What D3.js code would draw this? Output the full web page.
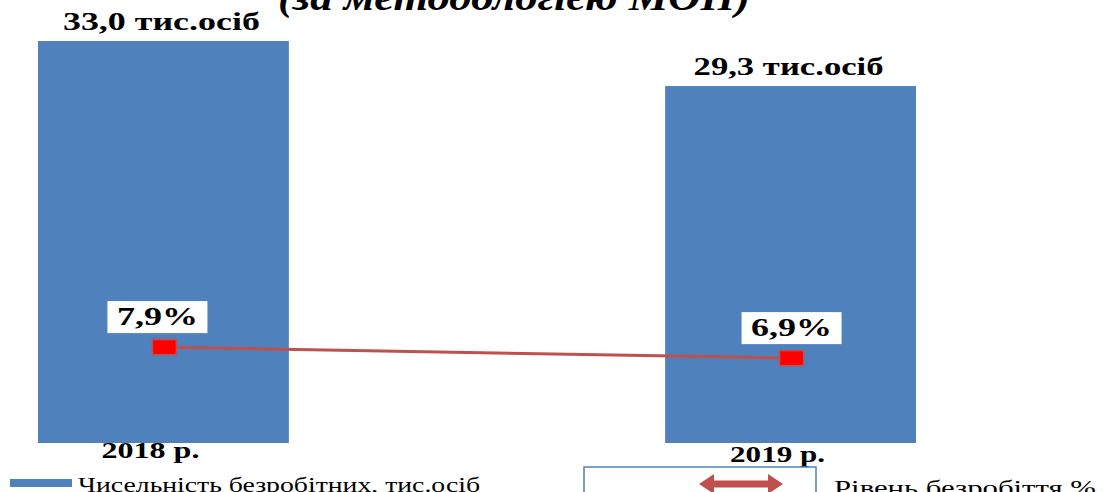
<!DOCTYPE html>
<html><head><meta charset="utf-8">
<script src="https://cdn.jsdelivr.net/npm/d3@7"></script>
<style>body{margin:0;background:#fff;overflow:hidden}svg{display:block}</style>
</head><body>
<script>
const categories = ["2018 р.", "2019 р."];
const unemployed = [33.0, 29.3];
const unemployedLabels = ["33,0 тис.осіб", "29,3 тис.осіб"];
const rate = [7.9, 6.9];
const rateLabels = ["7,9%", "6,9%"];
const titleText = "(за методологією МОП)";
const legendBar = "Чисельність безробітних, тис.осіб";
const legendLine = "Рівень безробіття,%";

const W = 1107, H = 492;
const svg = d3.select("body").append("svg").attr("width", W).attr("height", H);
const serif = "Liberation Serif, Times New Roman, Times, serif";

const x = d3.scaleBand().domain(categories).range([38, 916]).paddingInner(0.6).paddingOuter(0);
const y = d3.scaleLinear().domain([0, 33]).range([443, 41]);
const y2 = d3.scaleLinear().domain([0, 10]).range([434, 324]);

// title (cut at top)
svg.append("text").attr("x", 514).attr("y", 10).attr("text-anchor", "middle")
  .style("font-family", serif).attr("font-size", 38).attr("font-weight", "bold").attr("font-style", "italic")
  .attr("textLength", 472).attr("lengthAdjust", "spacingAndGlyphs").text(titleText);

// bars
svg.selectAll("rect.bar").data(unemployed).join("rect").attr("class", "bar")
  .attr("x", (d, i) => x(categories[i])).attr("width", x.bandwidth())
  .attr("y", d => y(d)).attr("height", d => y(0) - y(d)).attr("fill", "#4f81bd");

// bar labels
const barLabW = [197, 190];
svg.selectAll("text.blab").data(unemployed).join("text").attr("class", "blab")
  .attr("x", (d, i) => x(categories[i]) + x.bandwidth() / 2 - 2)
  .attr("y", d => y(d) - 11)
  .attr("text-anchor", "middle").style("font-family", serif).attr("font-size", 26).attr("font-weight", "bold")
  .attr("textLength", (d, i) => barLabW[i]).attr("lengthAdjust", "spacingAndGlyphs")
  .text((d, i) => unemployedLabels[i]);

// category labels
const catW = [98, 95];
svg.selectAll("text.cat").data(categories).join("text").attr("class", "cat")
  .attr("x", d => x(d) + x.bandwidth() / 2 - 13)
  .attr("y", (d, i) => 458 + i * 4)
  .attr("text-anchor", "middle").style("font-family", serif).attr("font-size", 23).attr("font-weight", "bold")
  .attr("textLength", (d, i) => catW[i]).attr("lengthAdjust", "spacingAndGlyphs")
  .text(d => d);

// line
const cx = (i) => x(categories[i]) + x.bandwidth() / 2 + 1;
svg.append("path").datum(rate)
  .attr("d", d3.line().x((d, i) => cx(i)).y(d => y2(d)))
  .attr("fill", "none").attr("stroke", "#c0504d").attr("stroke-width", 3);
svg.selectAll("rect.mk").data(rate).join("rect").attr("class", "mk")
  .attr("x", (d, i) => cx(i) - 12).attr("y", d => y2(d) - 7.5)
  .attr("width", 24).attr("height", 15)
  .attr("fill", "#ff0000").attr("stroke", "#c0504d").attr("stroke-width", 1.5);

// rate labels
const dxLab = [-7, 0];
const lab = svg.selectAll("g.rl").data(rate).join("g").attr("class", "rl")
  .attr("transform", (d, i) => `translate(${cx(i) + dxLab[i]},${y2(d) - 30})`);
lab.append("rect").attr("x", -50).attr("y", -16).attr("width", 100).attr("height", 32).attr("fill", "#fff");
lab.append("text").attr("x", 0).attr("y", 8).attr("text-anchor", "middle")
  .style("font-family", serif).attr("font-size", 25).attr("font-weight", "bold")
  .attr("textLength", 81).attr("lengthAdjust", "spacingAndGlyphs")
  .text((d, i) => rateLabels[i]);

// legend
svg.append("rect").attr("x", 10).attr("y", 479).attr("width", 62).attr("height", 8).attr("fill", "#4f81bd");
svg.append("text").attr("x", 78).attr("y", 492).style("font-family", serif).attr("font-size", 21)
  .attr("textLength", 402).attr("lengthAdjust", "spacingAndGlyphs").text(legendBar);

svg.append("rect").attr("x", 584).attr("y", 467).attr("width", 232).attr("height", 40)
  .attr("fill", "#fff").attr("stroke", "#4f81bd").attr("stroke-width", 1.5);
const ay = 484, ax0 = 699, ax1 = 783;
svg.append("path")
  .attr("d", `M${ax0},${ay} L${ax0 + 15},${ay - 10} L${ax0 + 15},${ay - 3.5} L${ax1 - 15},${ay - 3.5} L${ax1 - 15},${ay - 10} L${ax1},${ay} L${ax1 - 15},${ay + 10} L${ax1 - 15},${ay + 3.5} L${ax0 + 15},${ay + 3.5} L${ax0 + 15},${ay + 10} Z`)
  .attr("fill", "#c0504d");
svg.append("text").attr("x", 834).attr("y", 495).style("font-family", serif).attr("font-size", 21)
  .attr("textLength", 262).attr("lengthAdjust", "spacingAndGlyphs").text(legendLine);
</script>
</body></html>
